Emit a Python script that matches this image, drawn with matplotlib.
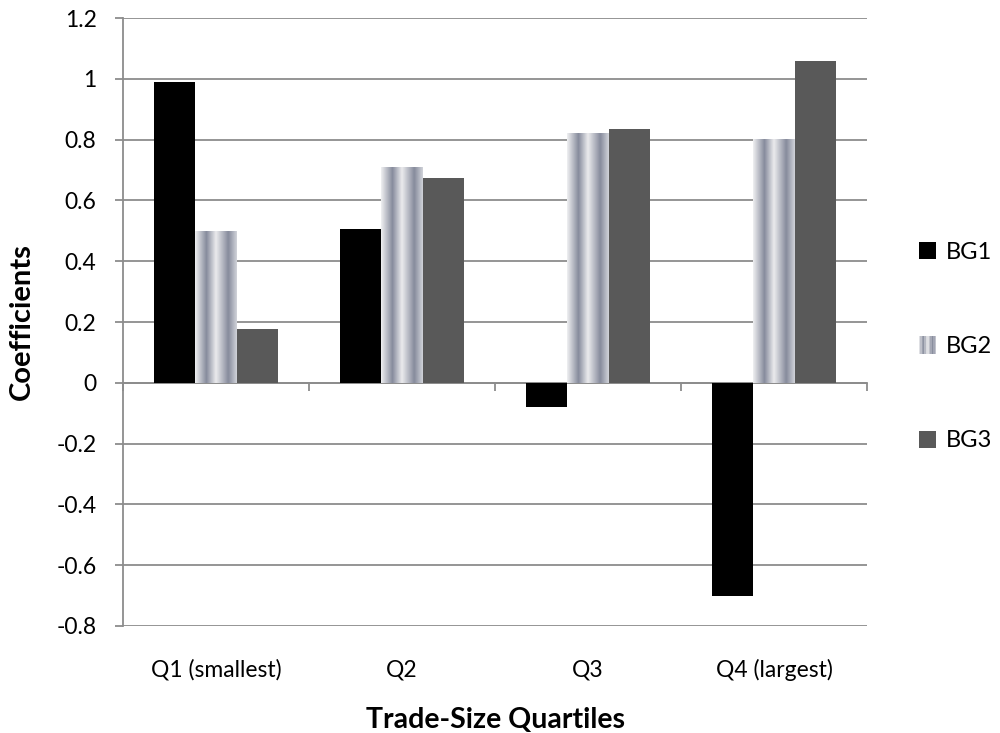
import matplotlib
matplotlib.use("Agg")
import matplotlib.pyplot as plt
import numpy as np
from matplotlib.colors import LinearSegmentedColormap
from matplotlib.patches import Rectangle, Patch
from matplotlib.legend_handler import HandlerBase

plt.rcParams["font.family"] = ["Lato", "DejaVu Sans"]

quartiles = ["Q1 (smallest)", "Q2", "Q3", "Q4 (largest)"]
bg1 = [0.99, 0.507, -0.08, -0.70]
bg2 = [0.50, 0.71, 0.82, 0.80]
bg3 = [0.177, 0.675, 0.835, 1.06]
yticks = [-0.8, -0.6, -0.4, -0.2, 0, 0.2, 0.4, 0.6, 0.8, 1.0, 1.2]

grid_col = "#8c8c8c"
stripe = LinearSegmentedColormap.from_list(
    "stripe",
    [(0.0, "#eeeef0"), (0.27, "#868b9c"), (0.5, "#ececee"),
     (0.8, "#868b9c"), (1.0, "#cfd1d8")],
)


class StripeHandler(HandlerBase):
    def create_artists(self, legend, orig_handle, xdescent, ydescent,
                       width, height, fontsize, trans):
        n = 12
        side = height
        x0 = -xdescent + width - side
        arts = []
        for i in range(n):
            arts.append(Rectangle((x0 + side * i / n, -ydescent), side / n + 0.2,
                                  side, facecolor=stripe((i + 0.5) / n),
                                  edgecolor="none", transform=trans))
        return arts


class SquareHandler(HandlerBase):
    def create_artists(self, legend, orig_handle, xdescent, ydescent,
                       width, height, fontsize, trans):
        side = height
        return [Rectangle((-xdescent + width - side, -ydescent), side, side,
                          facecolor=orig_handle.get_facecolor(),
                          edgecolor="none", transform=trans)]


fig = plt.figure(figsize=(10, 7.33), dpi=100)
ax = fig.add_axes([0.123, 0.146, 0.744, 0.8294])

x = np.arange(len(quartiles))
w = 0.223

ax.bar(x - w, bg1, w, color="black", zorder=3)
for xi, v in zip(x, bg2):
    ax.imshow(np.linspace(0, 1, 64).reshape(1, -1), cmap=stripe, aspect="auto",
              extent=[xi - w / 2, xi + w / 2, 0, v], zorder=3,
              interpolation="bilinear")
ax.bar(x + w, bg3, w, color="#595959", zorder=3)

ax.set_xlim(-0.5, 3.5)
ax.set_ylim(-0.8, 1.2)
ax.set_yticks(yticks)
ax.set_yticklabels([f"{v:g}" for v in yticks])
ax.yaxis.grid(True, color=grid_col, linewidth=1.3, zorder=0)
ax.tick_params(axis="y", length=6, width=1.3, color=grid_col, labelsize=16.5,
               pad=13)

ax.set_xticks(x)
ax.set_xticklabels(quartiles)
ax.tick_params(axis="x", length=0, labelsize=16.5, pad=24)

for s in ["top", "right", "bottom"]:
    ax.spines[s].set_visible(False)
ax.spines["left"].set_color(grid_col)
ax.spines["left"].set_linewidth(1.3)

# category axis drawn at zero
zero_ax = ax.secondary_xaxis(0.4)
zero_ax.set_xticks(np.arange(-0.5, 4.0, 1.0))
zero_ax.set_xticklabels([])
zero_ax.tick_params(length=6, width=1.3, color=grid_col)
zero_ax.spines["bottom"].set_color(grid_col)
zero_ax.spines["bottom"].set_linewidth(1.3)

ax.set_ylabel("Coefficients", fontsize=21, fontweight="bold", va="center")
ax.yaxis.set_label_coords(-0.136, 0.5)
ax.set_xlabel("Trade-Size Quartiles", fontsize=20.5, fontweight="bold",
              va="baseline")
ax.xaxis.set_label_coords(0.5, -0.168)

handles = [Patch(facecolor="black"), Patch(facecolor="#868b9c"),
           Patch(facecolor="#595959")]
fig.legend(handles, ["BG1", "BG2", "BG3"], loc="center left",
           bbox_to_anchor=(0.897, 0.527), frameon=False, fontsize=17,
           labelspacing=3.1, handlelength=0.75, handleheight=0.75,
           handletextpad=0.4,
           handler_map={handles[0]: SquareHandler(), handles[1]: StripeHandler(),
                        handles[2]: SquareHandler()})

fig.savefig("out.png", dpi=100)
